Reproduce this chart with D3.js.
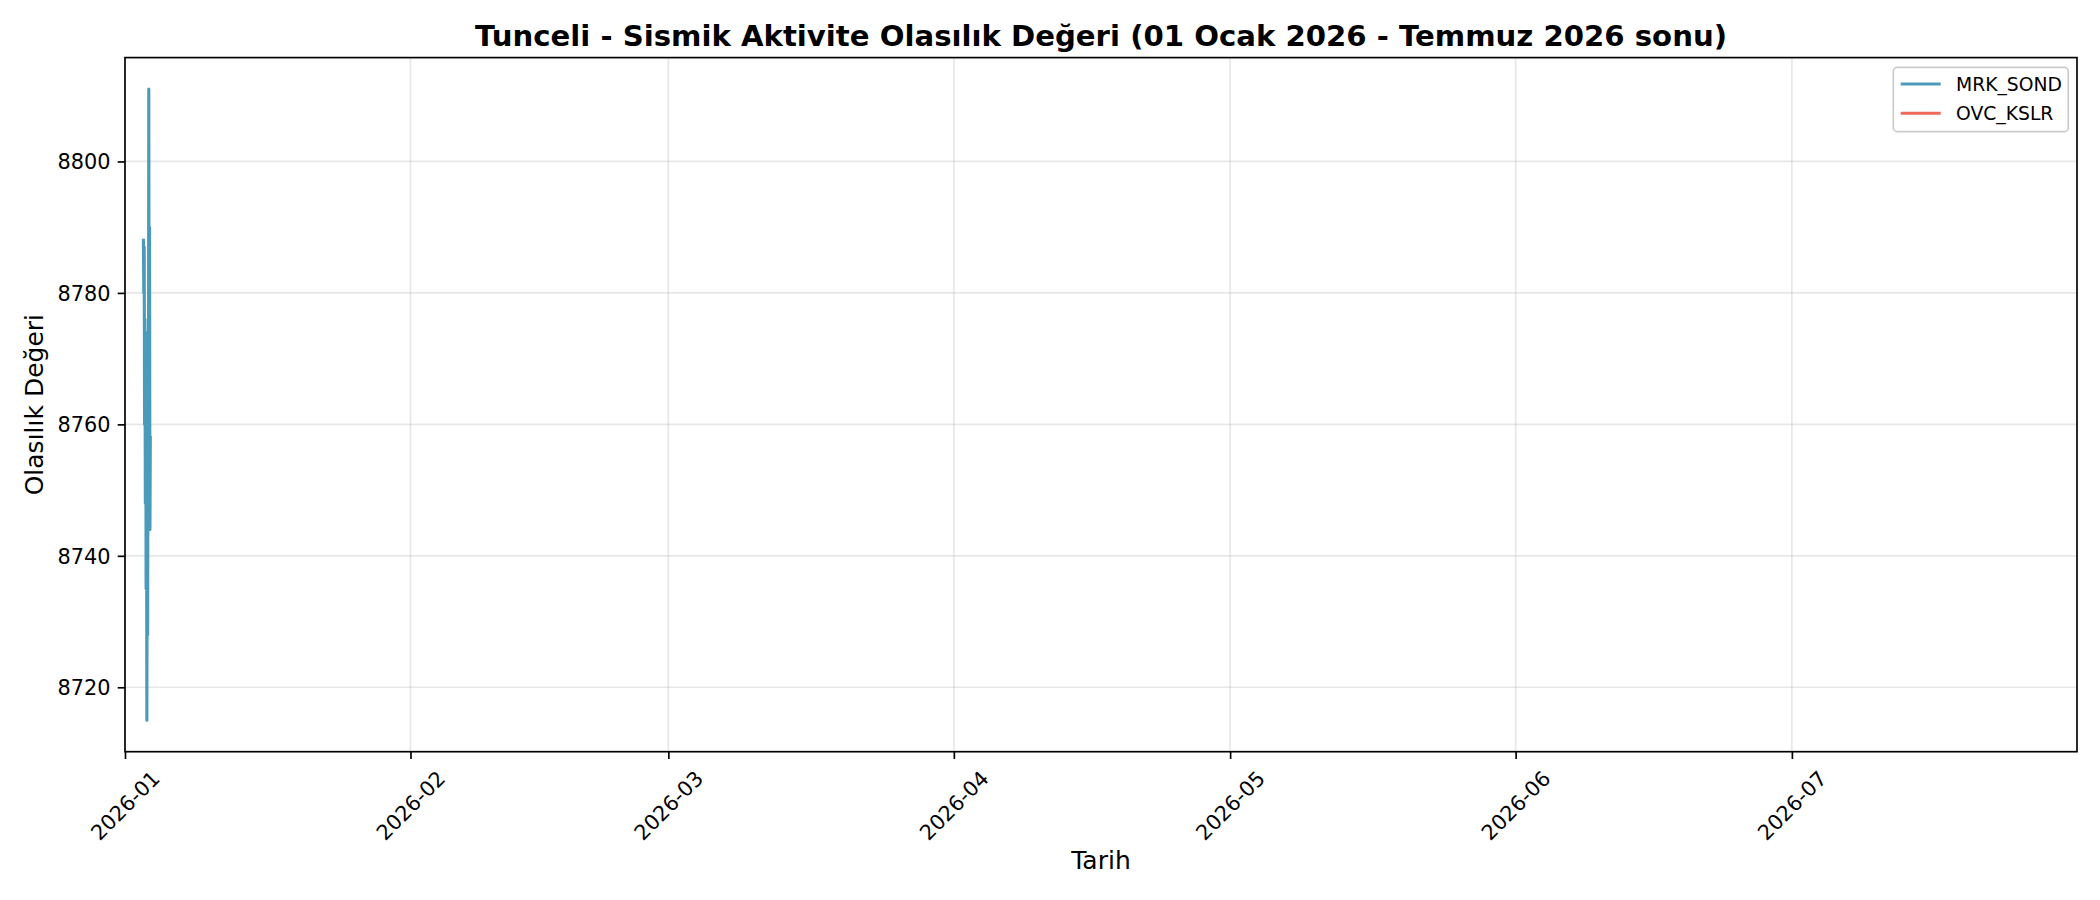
<!DOCTYPE html>
<html>
<head>
  <meta charset="utf-8">
  <title>Tunceli - Sismik Aktivite</title>
  <style type="text/css">
    body { margin: 0; background: #ffffff; }
    #chart text { font-family: "DejaVu Sans", sans-serif; fill: #000; }
  </style>
</head>
<body>
  <div id="chart"></div>
<script src="https://d3js.org/d3.v7.min.js"></script>
<script type="text/javascript">

  // series names shown in the legend
  var seriesNames = ["MRK_SOND", "OVC_KSLR"];

  // MRK_SOND, hourly readings on 3 Jan 2026
  var mrkTimes = ["2026-01-03T00:00", "2026-01-03T01:00", "2026-01-03T02:00", "2026-01-03T03:00",
                  "2026-01-03T04:00", "2026-01-03T05:00", "2026-01-03T06:00", "2026-01-03T07:00",
                  "2026-01-03T08:00", "2026-01-03T09:00", "2026-01-03T10:00", "2026-01-03T11:00",
                  "2026-01-03T12:00", "2026-01-03T13:00", "2026-01-03T14:00", "2026-01-03T15:00",
                  "2026-01-03T16:00", "2026-01-03T17:00", "2026-01-03T18:00"];
  var mrkValues = [8788, 8780, 8787, 8760, 8776, 8748, 8774, 8735, 8756, 8715,
                   8752, 8728, 8762, 8744, 8811, 8758, 8790, 8744, 8758];

  // OVC_KSLR has no points inside the plotted window
  var ovcTimes = [];
  var ovcValues = [];

  var xTickLabels = ["2026-01", "2026-02", "2026-03", "2026-04", "2026-05", "2026-06", "2026-07"];
  var yTickValues = [8720, 8740, 8760, 8780, 8800];

  var colors = ["#4a9aba", "#ef6a58"];

  var W = 2100, H = 900;
  var margin = {top: 57.6, right: 23, bottom: 148.3, left: 125};
  var width = W - margin.left - margin.right,
      height = H - margin.top - margin.bottom;

  var parseTime = d3.utcParse("%Y-%m-%dT%H:%M");
  var parseMonth = d3.utcParse("%Y-%m");

  var series = [
    {name: seriesNames[0], points: mrkTimes.map(function(t, i) { return {t: parseTime(t), v: mrkValues[i]}; })},
    {name: seriesNames[1], points: ovcTimes.map(function(t, i) { return {t: parseTime(t), v: ovcValues[i]}; })}
  ];

  var svg = d3.select("#chart")
    .append("svg")
      .attr("width", W)
      .attr("height", H);

  svg.append("rect").attr("width", W).attr("height", H).attr("fill", "#fff");

  var g = svg.append("g")
      .attr("transform", "translate(" + margin.left + "," + margin.top + ")");

  // x: fixed window, 1 Jan to end of July
  var x = d3.scaleUtc()
    .domain([parseTime("2026-01-01T00:00"), parseTime("2026-07-31T23:00")])
    .range([0, width]);

  // y: data extent plus 5% margin each side
  var ext = d3.extent(mrkValues.concat(ovcValues));
  var pad = (ext[1] - ext[0]) * 0.05;
  var y = d3.scaleLinear()
    .domain([ext[0] - pad, ext[1] + pad])
    .range([height, 0]);

  var xTicks = xTickLabels.map(function(s) { return parseMonth(s); });

  // grid
  g.append("g").selectAll("line")
    .data(xTicks).enter().append("line")
      .attr("x1", function(d) { return x(d); })
      .attr("x2", function(d) { return x(d); })
      .attr("y1", 0).attr("y2", height)
      .attr("stroke", "#b0b0b0").attr("stroke-opacity", 0.3).attr("stroke-width", 1.67);

  g.append("g").selectAll("line")
    .data(yTickValues).enter().append("line")
      .attr("x1", 0).attr("x2", width)
      .attr("y1", function(d) { return y(d); })
      .attr("y2", function(d) { return y(d); })
      .attr("stroke", "#b0b0b0").attr("stroke-opacity", 0.3).attr("stroke-width", 1.67);

  // lines
  var line = d3.line()
    .x(function(d) { return x(d.t); })
    .y(function(d) { return y(d.v); });

  g.append("g").selectAll("path")
    .data(series).enter().append("path")
      .attr("d", function(d) { return d.points.length ? line(d.points) : null; })
      .attr("fill", "none")
      .attr("stroke", function(d, i) { return colors[i]; })
      .attr("stroke-width", 3.1)
      .attr("stroke-linejoin", "round")
      .attr("stroke-linecap", "square");

  // x axis
  var xAxis = g.append("g")
    .attr("transform", "translate(0," + height + ")")
    .call(d3.axisBottom(x).tickValues(xTicks).tickFormat(d3.utcFormat("%Y-%m")).tickSize(7.3).tickSizeOuter(0));
  xAxis.select(".domain").remove();
  xAxis.selectAll(".tick line").attr("stroke", "#000").attr("stroke-width", 1.67);
  xAxis.selectAll(".tick text")
    .attr("font-size", "20.83px")
    .attr("text-anchor", "middle")
    .attr("dominant-baseline", "central")
    .attr("y", 0).attr("dy", 0)
    .attr("transform", "translate(0,54) rotate(-45)");

  // y axis
  var yAxis = g.append("g")
    .call(d3.axisLeft(y).tickValues(yTickValues).tickFormat(d3.format("d"))
      .tickSize(7.3).tickPadding(7.3).tickSizeOuter(0));
  yAxis.select(".domain").remove();
  yAxis.selectAll(".tick line").attr("stroke", "#000").attr("stroke-width", 1.67);
  yAxis.selectAll(".tick text")
    .attr("font-size", "20.83px")
    .attr("dy", "0.36em");

  // frame
  g.append("rect")
    .attr("width", width).attr("height", height)
    .attr("fill", "none").attr("stroke", "#000").attr("stroke-width", 1.67);

  // legend
  var leg = g.append("g").attr("transform", "translate(" + (width - 183.7) + ",9.7)");
  leg.append("rect")
    .attr("width", 175).attr("height", 64.4).attr("rx", 4)
    .attr("fill", "#fff").attr("fill-opacity", 0.8)
    .attr("stroke", "#cccccc").attr("stroke-width", 1.67);
  var items = leg.selectAll("g.item").data(seriesNames).enter().append("g")
    .attr("transform", function(d, i) { return "translate(0," + (16.7 + i * 29.3) + ")"; });
  items.append("line")
    .attr("x1", 7.4).attr("x2", 47.4)
    .attr("stroke", function(d, i) { return colors[i]; })
    .attr("stroke-width", 3.1);
  items.append("text")
    .attr("x", 62.7).attr("dy", "0.36em")
    .attr("font-size", "18.75px")
    .text(function(d) { return d; });

  // title and axis labels
  svg.append("text")
    .attr("x", margin.left + width / 2).attr("y", 45.5)
    .attr("text-anchor", "middle")
    .attr("font-size", "29.17px").attr("font-weight", "bold")
    .text("Tunceli - Sismik Aktivite Olasılık Değeri (01 Ocak 2026 - Temmuz 2026 sonu)");

  svg.append("text")
    .attr("x", margin.left + width / 2).attr("y", 869)
    .attr("text-anchor", "middle")
    .attr("font-size", "25px")
    .text("Tarih");

  svg.append("text")
    .attr("transform", "translate(42.7," + (margin.top + height / 2) + ") rotate(-90)")
    .attr("text-anchor", "middle")
    .attr("font-size", "25px")
    .text("Olasılık Değeri");

</script>
</body>
</html>
